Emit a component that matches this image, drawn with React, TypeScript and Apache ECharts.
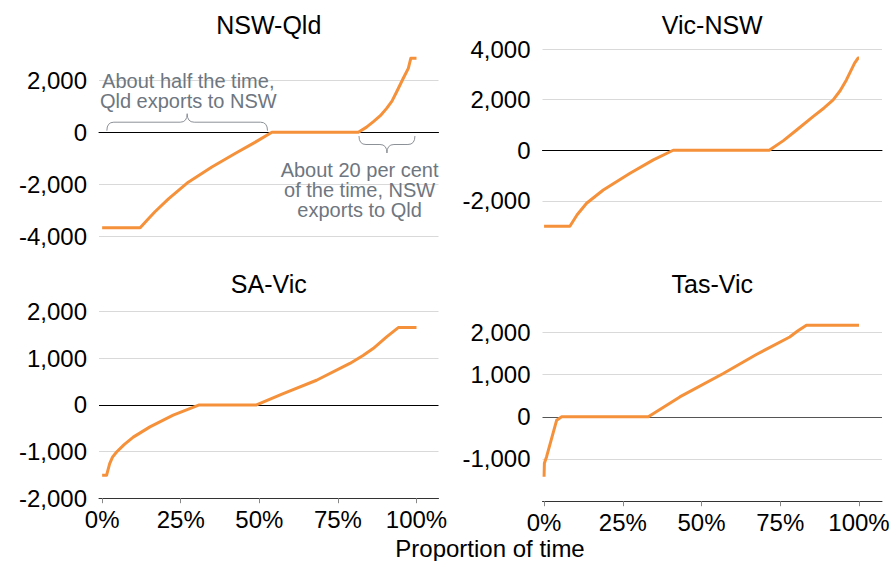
import React, { useEffect, useRef } from 'react';
import * as echarts from 'echarts';

// ---- data (proportion of time in %, MW) ----
const panelTitles = ['NSW-Qld', 'Vic-NSW', 'SA-Vic', 'Tas-Vic'];
const xTickValues = [0, 25, 50, 75, 100];
const xAxisTitle = 'Proportion of time';

const nswQld: [number, number][] = [
  [0, -3670], [12.1, -3670], [14.5, -3350], [16.8, -3056], [21.1, -2563], [27.4, -1918],
  [34.9, -1336], [42.3, -816], [48.6, -388], [54, 0], [81.5, 0], [84, 190], [86.3, 410],
  [88.5, 640], [90.5, 920], [92.2, 1200], [93.7, 1560], [95.8, 2080], [97.4, 2460],
  [98.2, 2850], [100, 2850],
];
const vicNsw: [number, number][] = [
  [0, -3000], [8.2, -3000], [10.5, -2550], [13.5, -2095], [18.8, -1570], [27.3, -910],
  [34.7, -380], [41, 0], [71.5, 0], [76, 380], [80.2, 800], [85.4, 1330], [89, 1680],
  [91.8, 1990], [94, 2350], [96, 2780], [98.6, 3440], [99.7, 3640], [100, 3640],
];
const saVic: [number, number][] = [
  [0, -1510], [1.4, -1510], [2.4, -1260], [3.3, -1120], [4.6, -1010], [7, -850], [9.9, -690],
  [15.2, -470], [22.6, -220], [30.9, 0], [49.1, 0], [57.6, 245], [68.2, 530], [78.8, 890],
  [83, 1060], [86.2, 1210], [90.5, 1460], [94.2, 1660], [100, 1660],
];
const tasVic: [number, number][] = [
  [0, -1420], [0.1, -1100], [0.8, -945], [4, -80], [5.6, 0], [33.1, 0], [43.1, 470],
  [56.9, 1025], [67.4, 1475], [78, 1890], [80.5, 2030], [83.3, 2170], [100, 2170],
];
const panelSeries = [nswQld, vicNsw, saVic, tasVic];

// y-axis ranges per panel
const yMins = [-4000, -4000, -2000, -2000];
const yMaxs = [3000, 4000, 2000, 2500];
const yIntervals = [2000, 2000, 1000, 1000];

// annotations (NSW-Qld panel)
const note1Text = 'About half the time,\nQld exports to NSW';
const note1Pos: [number, number] = [27.4, 1600];
const brace1Span: [number, number] = [1.5, 52.6];
const note2Text = 'About 20 per cent\nof the time, NSW\nexports to Qld';
const note2Pos: [number, number] = [81.9, -2200];
const brace2Span: [number, number] = [81.7, 99.5];

const ORANGE = '#f5913a';
const GRID = '#d9d9d9';
const FONT = "'Liberation Sans', Arial, sans-serif";

const Brace = echarts.graphic.extendShape({
  type: 'brace',
  shape: { x1: 0, x2: 0, y: 0, a: 8, r: 6 },
  buildPath(ctx: any, s: any) {
    const xm = (s.x1 + s.x2) / 2;
    const yh = s.y - s.a;
    const yt = s.y - 2 * s.a;
    ctx.moveTo(s.x1, s.y);
    ctx.quadraticCurveTo(s.x1, yh, s.x1 + s.r, yh);
    ctx.lineTo(xm - s.r, yh);
    ctx.quadraticCurveTo(xm, yh, xm, yt);
    ctx.quadraticCurveTo(xm, yh, xm + s.r, yh);
    ctx.lineTo(s.x2 - s.r, yh);
    ctx.quadraticCurveTo(s.x2, yh, s.x2, s.y);
  },
});
echarts.graphic.registerShape('brace', Brace);

export default function App() {
  const ref = useRef<HTMLDivElement>(null);

  useEffect(() => {
    if (!ref.current) return;
    const chart = echarts.init(ref.current, undefined, { renderer: 'svg' });

    const grids = [
      { left: 99, top: 54.3, width: 339.5, height: 182 },
      { left: 542.5, top: 49, width: 339.5, height: 202.5 },
      { left: 99, top: 311.7, width: 339.5, height: 186.5 },
      { left: 542.5, top: 311.2, width: 339.5, height: 190 },
    ];
    const xMins = [-1, -0.5, -1, -0.5];
    const xMaxs = [107, 107.3, 107, 107.3];

    const xAxes = grids.map((_, i) => {
      const bottom = i >= 2;
      return {
        type: 'value',
        gridIndex: i,
        min: xMins[i],
        max: xMaxs[i],
        splitLine: { show: false },
        axisLine: bottom
          ? { show: true, onZero: false, lineStyle: { color: '#333', width: 1 } }
          : { show: true, onZero: true, lineStyle: { color: '#000', width: 1 } },
        axisTick: bottom
          ? { show: true, customValues: xTickValues, length: 5, lineStyle: { color: '#888' } }
          : { show: false },
        axisLabel: bottom
          ? {
              show: true,
              customValues: xTickValues,
              formatter: '{value}%',
              fontSize: 24,
              color: '#000',
              margin: 9,
              fontFamily: FONT,
            }
          : { show: false },
      };
    });

    const yAxes = grids.map((_, i) => {
      const bottom = i >= 2;
      return {
        type: 'value',
        gridIndex: i,
        min: yMins[i],
        max: yMaxs[i],
        interval: yIntervals[i],
        axisLine: { show: false },
        axisTick: { show: false },
        axisLabel: {
          fontSize: 24,
          color: '#000',
          margin: 12,
          fontFamily: FONT,
          showMinLabel: !(i === 1 || i === 3),
          showMaxLabel: !(i === 0 || i === 3),
          formatter: (v: number) => v.toLocaleString('en-US'),
        },
        splitLine: {
          show: true,
          showMinLine: !(bottom || i === 1),
          showMaxLine: !(i === 0 || i === 3),
          lineStyle: {
            color: bottom ? [GRID, i === 3 ? '#555' : '#000', GRID, GRID] : GRID,
            width: 1,
          },
        },
      };
    });

    const series = panelSeries.map((d, i) => ({
      type: 'line',
      xAxisIndex: i,
      yAxisIndex: i,
      data: d,
      showSymbol: false,
      symbol: 'none',
      lineStyle: { color: ORANGE, width: 3, join: 'round' },
      z: 5,
    }));

    chart.setOption({
      animation: false,
      textStyle: { fontFamily: FONT },
      grid: grids,
      xAxis: xAxes,
      yAxis: yAxes,
      series,
    });

    const px = (gi: number, p: [number, number]) =>
      chart.convertToPixel({ gridIndex: gi } as any, p) as number[];

    const titleEls = panelTitles.map((t, i) => {
      const g = grids[i];
      return {
        type: 'text',
        x: g.left + g.width / 2,
        y: i < 2 ? 25 : 284,
        style: {
          text: t,
          fontSize: 25,
          fill: '#000',
          align: 'center',
          verticalAlign: 'middle',
          fontFamily: FONT,
        },
      };
    });

    const n1 = px(0, note1Pos);
    const n2 = px(0, note2Pos);
    const b1a = px(0, [brace1Span[0], 0]);
    const b1b = px(0, [brace1Span[1], 0]);
    const b2a = px(0, [brace2Span[0], 0]);
    const b2b = px(0, [brace2Span[1], 0]);
    const noteStyle = {
      fontSize: 20,
      lineHeight: 20,
      fill: '#6e7680',
      align: 'center',
      verticalAlign: 'middle',
      fontFamily: FONT,
    };

    chart.setOption({
      graphic: [
        ...titleEls,
        { type: 'text', x: n1[0], y: n1[1], style: { ...noteStyle, text: note1Text } },
        { type: 'text', x: n2[0], y: n2[1], style: { ...noteStyle, text: note2Text } },
        {
          type: 'brace',
          shape: { x1: b1a[0], x2: b1b[0], y: b1a[1] - 1.6, a: 8.5, r: 7 },
          style: { fill: 'none', stroke: '#8c9197', lineWidth: 1 },
        },
        {
          type: 'brace',
          shape: { x1: b2a[0], x2: b2b[0], y: b2a[1] + 3.7, a: -8.5, r: 7 },
          style: { fill: 'none', stroke: '#8c9197', lineWidth: 1 },
        },
        {
          type: 'text',
          x: 490,
          y: 548,
          style: {
            text: xAxisTitle,
            fontSize: 24,
            fill: '#000',
            align: 'center',
            verticalAlign: 'middle',
            fontFamily: FONT,
          },
        },
      ],
    });

    return () => chart.dispose();
  }, []);

  return (
    <div
      ref={ref}
      style={{ position: 'absolute', left: 0, top: 0, width: 894, height: 561 }}
    />
  );
}
